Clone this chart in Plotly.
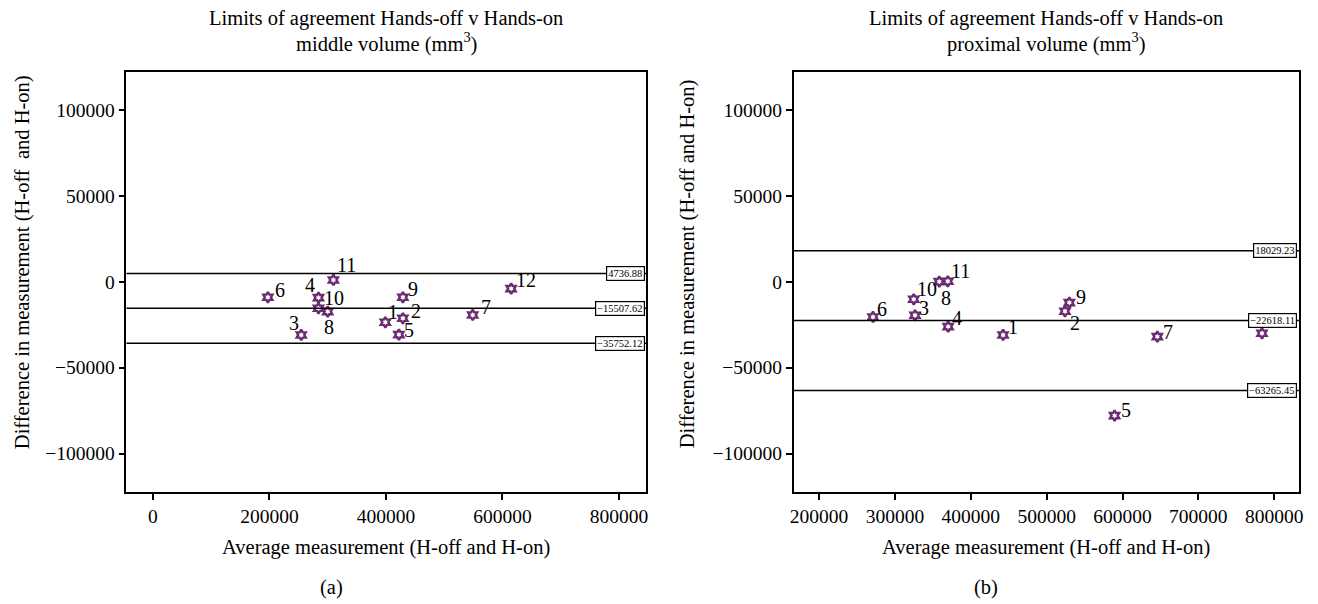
import plotly.graph_objects as go

# ---------------- data ----------------
point_ids = ["1", "2", "3", "4", "5", "6", "7", "8", "9", "10", "11", "12"]

middle_avg = [399000, 429100, 254600, 284200, 422300, 197300, 549000, 300100, 429100, 284200, 309800, 615000]
middle_diff = [-23600, -21280, -30990, -9300, -30810, -9070, -19360, -17440, -9070, -15470, 990, -4070]
middle_limits = [4736.88, -15507.62, -35752.12]

proximal_avg = [442600, 524200, 326500, 370200, 589600, 271100, 645900, 358400, 529900, 324800, 369700, 783900]
proximal_diff = [-30990, -17210, -19540, -26160, -77900, -20520, -31980, 0, -12210, -10230, 230, -30000]
proximal_limits = [18029.23, -22618.11, -63265.45]

middle_xticks = [0, 200000, 400000, 600000, 800000]
proximal_xticks = [200000, 300000, 400000, 500000, 600000, 700000, 800000]
y_ticks = [-100000, -50000, 0, 50000, 100000]

# label offsets in screen pixels (style only): (dx right, dy up)
middle_label_shift = [(8, 10), (13, 7), (-7, 12), (-8, 13), (10, 5), (12, 7),
                      (13, 8), (1, -15), (10, 8), (16, 10), (13, 15), (15, 9)]
proximal_label_shift = [(10, 8), (10, -12), (9, 7), (9, 9), (11, 6), (9, 8),
                        (11, 5), (7, -16), (12, 6), (13, 10), (13, 10), None]  # 12 hidden under box

FONT = "Liberation Serif"
PURPLE = "#6B2C72"
W, H = 1318, 604

def fmt(v):
    s = f"{abs(v):.2f}"
    return ("\u2212" + s) if v < 0 else s

fig = go.Figure()

marker = dict(symbol="hexagram-open", size=8, color=PURPLE, line=dict(width=2.4, color=PURPLE))
fig.add_trace(go.Scatter(x=middle_avg, y=middle_diff, mode="markers", marker=marker,
                         xaxis="x", yaxis="y", showlegend=False, hoverinfo="x+y"))
fig.add_trace(go.Scatter(x=proximal_avg, y=proximal_diff, mode="markers", marker=marker,
                         xaxis="x2", yaxis="y2", showlegend=False, hoverinfo="x+y"))

axis_common = dict(showgrid=False, zeroline=False, showline=True, mirror=True,
                   linecolor="black", linewidth=1.5, ticks="outside", ticklen=6,
                   tickwidth=1.5, tickcolor="black",
                   tickfont=dict(family=FONT, size=19.5, color="black"), tickformat="d")

dom_l = [123.3 / W, 646.7 / W]
dom_r = [795.0 / W, 1303.7 / W]
dom_y = [1 - 492.0 / H, 1 - 71.7 / H]

fig.update_layout(
    width=W, height=H, autosize=False,
    margin=dict(l=0, r=0, t=0, b=0),
    paper_bgcolor="white", plot_bgcolor="white",
    xaxis=dict(axis_common, domain=dom_l, range=[-45500, 847000], tickvals=middle_xticks, anchor="y"),
    yaxis=dict(axis_common, domain=dom_y, range=[-122300, 122100], tickvals=y_ticks, anchor="x"),
    xaxis2=dict(axis_common, domain=dom_r, range=[166400, 832400], tickvals=proximal_xticks, anchor="y2"),
    yaxis2=dict(axis_common, domain=dom_y, range=[-122300, 122100], tickvals=y_ticks, anchor="x2"),
)

shapes = []
annotations = []

# point labels
for xref, yref, xs, ys, shifts in (("x", "y", middle_avg, middle_diff, middle_label_shift),
                                   ("x2", "y2", proximal_avg, proximal_diff, proximal_label_shift)):
    for pid, xv, yv, sh in zip(point_ids, xs, ys, shifts):
        if sh is None:
            continue
        annotations.append(dict(xref=xref, yref=yref, x=xv, y=yv, text=pid, showarrow=False,
                                xanchor="center", yanchor="middle", xshift=sh[0], yshift=sh[1],
                                font=dict(family=FONT, size=20, color="black")))

# limit lines + boxed values
for xref, yref, limits in (("x", "y", middle_limits), ("x2", "y2", proximal_limits)):
    for v in limits:
        shapes.append(dict(type="line", xref=f"{xref} domain", yref=yref, x0=0, x1=1, y0=v, y1=v,
                           line=dict(color="black", width=1.5), layer="above"))
        annotations.append(dict(xref=f"{xref} domain", yref=yref, x=0.997, y=v, xanchor="right",
                                yanchor="middle", text=fmt(v), showarrow=False,
                                font=dict(family=FONT, size=10.5, color="black"),
                                bgcolor="white", bordercolor="black", borderwidth=1.2, borderpad=1))

def txt(x, y, t, size=20.5, angle=0):
    annotations.append(dict(xref="paper", yref="paper", x=x, y=y, text=t, showarrow=False,
                            xanchor="center", yanchor="middle", textangle=angle,
                            font=dict(family=FONT, size=size, color="black")))

cl = (dom_l[0] + dom_l[1]) / 2
cr = (dom_r[0] + dom_r[1]) / 2
txt(cl, 1 - 18 / H, "Limits of agreement Hands-off v Hands-on")
txt(cl, 1 - 43 / H, "middle volume (mm<sup>3</sup>)")
txt(cr, 1 - 18 / H, "Limits of agreement Hands-off v Hands-on")
txt(cr, 1 - 43 / H, "proximal volume (mm<sup>3</sup>)")
txt(cl, 1 - 547 / H, "Average measurement (H-off and H-on)")
txt(cr, 1 - 547 / H, "Average measurement (H-off and H-on)")
txt(0.25, 1 - 587 / H, "(a)")
txt(0.75, 1 - 587 / H, "(b)")
txt(18.3 / W, 1 - 262 / H, "Difference in measurement (H-off\u00a0 and H-on)", angle=-90)
txt(688 / W, 1 - 264 / H, "Difference in measurement (H-off and H-on)", angle=-90)

fig.update_layout(shapes=shapes, annotations=annotations)

fig.write_html("out.html", config={"displayModeBar": False},
               post_script="document.body.style.margin='0';")
